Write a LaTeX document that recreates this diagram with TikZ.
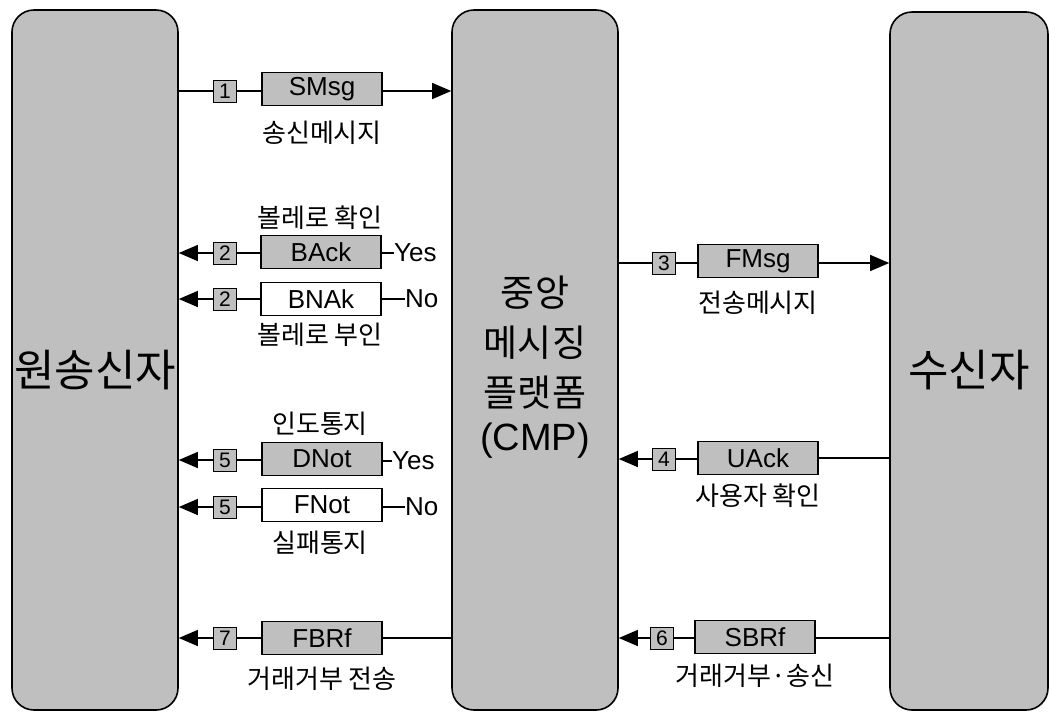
\documentclass[tikz,border=0pt]{standalone}
\usepackage{fontspec}
\setmainfont{Liberation Sans}
\newfontfamily\kr{Noto Sans CJK KR}
\usetikzlibrary{arrows.meta}
\begin{document}
\begin{tikzpicture}[x=1pt,y=-1pt,
 lane/.style={draw,line width=1.6pt,rounded corners=22pt,fill=black!25,minimum width=166pt,minimum height=700pt,inner sep=0},
 lanetxt/.style={font=\kr\fontsize{44}{44}\selectfont,inner sep=0},
 midtxt/.style={font=\kr\fontsize{37}{37}\selectfont,inner sep=0},
 num/.style={draw,line width=1pt,fill=black!25,minimum width=23pt,minimum height=22pt,inner sep=0,font=\fontsize{21}{21}\selectfont},
 msg/.style={draw,line width=1.2pt,fill=black!25,minimum width=120pt,minimum height=33pt,inner sep=0,font=\fontsize{26}{26}\selectfont},
 msgw/.style={msg,fill=white},
 lbl/.style={font=\kr\fontsize{26}{26}\selectfont,inner sep=0},
 yn/.style={font=\fontsize{26}{26}\selectfont,inner sep=0,anchor=west},
 conn/.style={line width=1.3pt},
 arr/.style={conn,-{Triangle[length=19pt,width=16pt]}},
]
\useasboundingbox (0,0) rectangle (1049,713);
% lanes
\node[lane] (L) at (95,360) {};
\node[lane] (M) at (535,360) {};
\node[lane,minimum width=158pt,minimum height=698pt] (R) at (969,361) {};
\node[lanetxt] (Lt) at (95,370) {원송신자};
\node[lanetxt] (Rt) at (969,370) {수신자};
\node[midtxt] (Mt1) at (535,293) {중앙};
\node[midtxt] (Mt2) at (535,343) {메시징};
\node[midtxt] (Mt3) at (535,393) {플랫폼};
\node[midtxt,font=\fontsize{38}{38}\selectfont] (Mt4) at (535,441) {(CMP)};

% row 1
\node[num] (n1) at (225,91) {1};
\node[msg] (m1) at (322,89) {SMsg};
\node[lbl] (l1) at (322,133) {송신메시지};
\draw[conn] (L.east |- n1) -- (n1);
\draw[conn] (n1) -- (m1.west |- n1);
\draw[arr] (m1.east |- n1) -- (M.west |- n1);

% row 2 BAck
\node[lbl] (l2a) at (320,218) {볼레로 확인};
\node[num] (n2a) at (225,253) {2};
\node[msg] (m2a) at (321,252) {BAck};
\node[yn] (y2a) at (394,253) {Yes};
\draw[conn] (m2a.west |- n2a) -- (n2a);
\draw[arr] (n2a) -- (L.east |- n2a);
\draw[conn] (m2a.east |- y2a) -- (y2a.west);

% row 2 BNAk
\node[num] (n2b) at (225,299) {2};
\node[msgw] (m2b) at (321,299) {BNAk};
\node[yn] (y2b) at (405,299) {No};
\node[lbl] (l2b) at (320,335) {볼레로 부인};
\draw[conn] (m2b) -- (n2b);
\draw[arr] (n2b) -- (L.east |- n2b);
\draw[conn] (m2b.east) -- (y2b.west);

% row 5 DNot
\node[lbl] (l5a) at (320,424) {인도통지};
\node[num] (n5a) at (225,460) {5};
\node[msg] (m5a) at (322,459) {DNot};
\node[yn] (y5a) at (392,461) {Yes};
\draw[conn] (m5a.west |- n5a) -- (n5a);
\draw[arr] (n5a) -- (L.east |- n5a);
\draw[conn] (m5a.east |- y5a) -- (y5a.west);

% row 5 FNot
\node[num] (n5b) at (225,507) {5};
\node[msgw] (m5b) at (322,505) {FNot};
\node[yn] (y5b) at (405,507) {No};
\node[lbl] (l5b) at (320,543) {실패통지};
\draw[conn] (m5b.west |- n5b) -- (n5b);
\draw[arr] (n5b) -- (L.east |- n5b);
\draw[conn] (m5b.east |- y5b) -- (y5b.west);

% row 7 FBRf
\node[num] (n7) at (225,638) {7};
\node[msg] (m7) at (322,638) {FBRf};
\node[lbl] (l7) at (322,679) {거래거부 전송};
\draw[conn] (M.west |- m7) -- (m7);
\draw[conn] (m7) -- (n7);
\draw[arr] (n7) -- (L.east |- n7);

% row 3 FMsg
\node[num] (n3) at (664,263) {3};
\node[msg] (m3) at (758,261) {FMsg};
\node[lbl] (l3) at (758,303) {전송메시지};
\draw[conn] (M.east |- n3) -- (n3);
\draw[conn] (n3) -- (m3.west |- n3);
\draw[arr] (m3.east |- n3) -- (R.west |- n3);

% row 4 UAck
\node[num] (n4) at (664,459) {4};
\node[msg] (m4) at (758,458) {UAck};
\node[lbl] (l4) at (758,496) {사용자 확인};
\draw[conn] (R.west |- m4) -- (m4);
\draw[conn] (m4.west |- n4) -- (n4);
\draw[arr] (n4) -- (M.east |- n4);

% row 6 SBRf
\node[num] (n6) at (662,638) {6};
\node[msg] (m6) at (755,637) {SBRf};
\node[lbl] (l6) at (755,676) {거래거부·송신};
\draw[conn] (R.west |- n6) -- (m6.east |- n6);
\draw[conn] (m6.west |- n6) -- (n6);
\draw[arr] (n6) -- (M.east |- n6);
\end{tikzpicture}
\end{document}
